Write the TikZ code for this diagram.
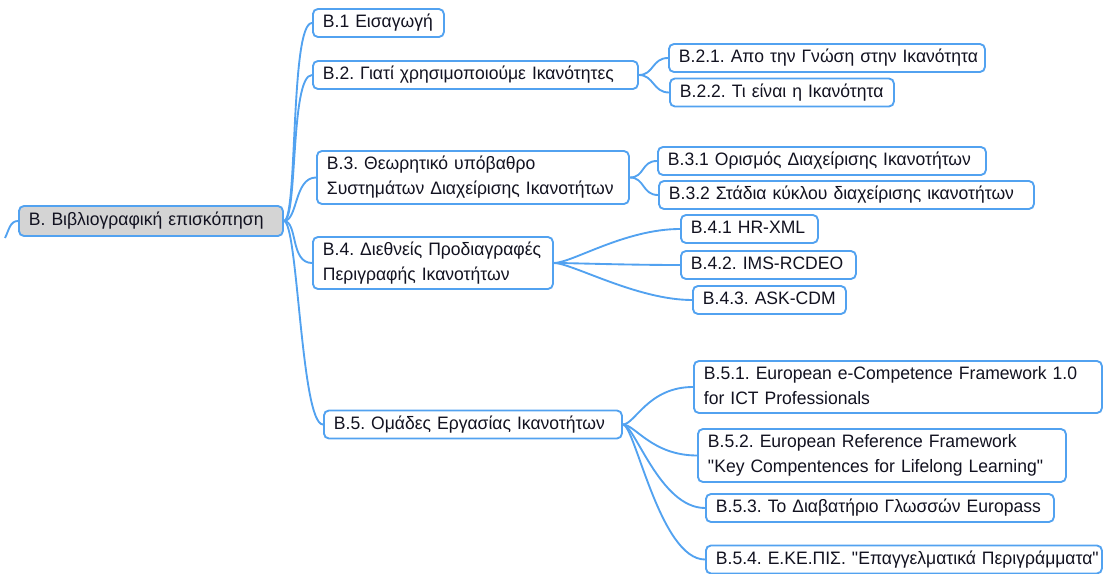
\documentclass[tikz,border=0pt]{standalone}
\usepackage{fontspec}
\setmainfont{Liberation Sans}[FakeStretch=0.975]
\definecolor{mmblue}{RGB}{82,162,240}
\definecolor{mmgrey}{RGB}{212,212,212}
\definecolor{mmtext}{RGB}{18,18,32}
\newcommand\tline[1]{\mbox{#1}}
\begin{document}
\begin{tikzpicture}[x=0.75pt,y=-0.75pt,
  topic/.style={draw=mmblue, line width=1.4pt, rounded corners=3.75pt, fill=white,
    anchor=west, align=left, inner xsep=7.5pt, inner ysep=0pt,
    text=mmtext, font=\fontsize{13.5pt}{18.75pt}\selectfont\frenchspacing,
    text height=9.7pt, text depth=2.9pt},
  twoline/.style={text depth=21.65pt},
  central/.style={topic, fill=mmgrey},
  conn/.style={draw=mmblue, line width=1.4pt}]
\useasboundingbox (0,0) rectangle (1104,574);

% central topic
\node[central, minimum width=198pt, text width=183pt, minimum height=22.5pt] (root) at (18,221) {\tline{B. Βιβλιογραφική επισκόπηση}};

% main topics
\node[topic, minimum width=98.25pt, text width=83.25pt, minimum height=21pt] (b1) at (312,23) {\tline{B.1 Εισαγωγή}};
\node[topic, minimum width=243.75pt, text width=228.75pt, minimum height=21pt] (b2) at (312,75) {\tline{B.2. Γιατί χρησιμοποιούμε Ικανότητες}};
\node[topic, twoline, minimum width=234pt, text width=219pt, minimum height=39.75pt] (b3) at (316,177.5) {\tline{B.3. Θεωρητικό υπόβαθρο}\\\tline{Συστημάτων Διαχείρισης Ικανοτήτων}};
\node[topic, twoline, minimum width=180pt, text width=165pt, minimum height=39pt] (b4) at (312,263) {\tline{B.4. Διεθνείς Προδιαγραφές}\\\tline{Περιγραφής Ικανοτήτων}};
\node[topic, minimum width=223.5pt, text width=208.5pt, minimum height=21pt] (b5) at (323,424.5) {\tline{B.5. Ομάδες Εργασίας Ικανοτήτων}};

% subtopics
\node[topic, minimum width=237pt, text width=222pt, minimum height=21pt] (b21) at (668,58) {\tline{B.2.1. Απο την Γνώση στην Ικανότητα}};
\node[topic, minimum width=168pt, text width=153pt, minimum height=21pt] (b22) at (669,92.5) {\tline{B.2.2. Τι είναι η Ικανότητα}};
\node[topic, minimum width=246pt, text width=231pt, minimum height=21pt] (b31) at (657,161) {\tline{B.3.1 Ορισμός Διαχείρισης Ικανοτήτων}};
\node[topic, minimum width=281.25pt, text width=266.25pt, minimum height=21pt] (b32) at (658,195) {\tline{B.3.2 Στάδια κύκλου διαχείρισης ικανοτήτων}};
\node[topic, minimum width=102.75pt, text width=87.75pt, minimum height=21pt] (b41) at (680,229) {\tline{B.4.1 HR-XML}};
\node[topic, minimum width=131.25pt, text width=116.25pt, minimum height=21pt] (b42) at (680,265) {\tline{B.4.2. IMS-RCDEO}};
\node[topic, minimum width=114.75pt, text width=99.75pt, minimum height=21pt] (b43) at (692,300) {\tline{B.4.3. ASK-CDM}};
\node[topic, twoline, minimum width=306pt, text width=291pt, minimum height=39pt] (b51) at (693,387) {\tline{B.5.1. European e-Competence Framework 1.0}\\\tline{for ICT Professionals}};
\node[topic, twoline, minimum width=276pt, text width=261pt, minimum height=39.75pt] (b52) at (697,455.5) {\tline{B.5.2. European Reference Framework}\\\tline{\textquotedbl Key Compentences for Lifelong Learning\textquotedbl}};
\node[topic, minimum width=261pt, text width=246pt, minimum height=21pt] (b53) at (705,508) {\tline{B.5.3. Το Διαβατήριο Γλωσσών Europass}};
\node[topic, minimum width=297pt, text width=282pt, minimum height=21pt] (b54) at (705,559.5) {\tline{B.5.4. Ε.ΚΕ.ΠΙΣ. \textquotedbl Επαγγελματικά Περιγράμματα\textquotedbl}};

% connectors
\coordinate (lt) at (5,238);
\draw[conn] (root.west) .. controls +(-8,0) and +(4,-8) .. (lt);
\foreach \c in {b1,b2,b3,b4,b5}
  \draw[conn] (root.east) .. controls +(14,0) and +(-22,0) .. (\c.west);
\foreach \c in {b21,b22}
  \draw[conn] (b2.east) .. controls +(15,0) and +(-16,0) .. (\c.west);
\foreach \c in {b31,b32}
  \draw[conn] (b3.east) .. controls +(15,0) and +(-16,0) .. (\c.west);
\foreach \c in {b41,b42,b43}
  \draw[conn] (b4.east) .. controls +(18,0) and +(-55,0) .. (\c.west);
\foreach \c in {b51,b52,b53,b54}
  \draw[conn] (b5.east) .. controls +(12,0) and +(-45,0) .. (\c.west);
\end{tikzpicture}
\end{document}
